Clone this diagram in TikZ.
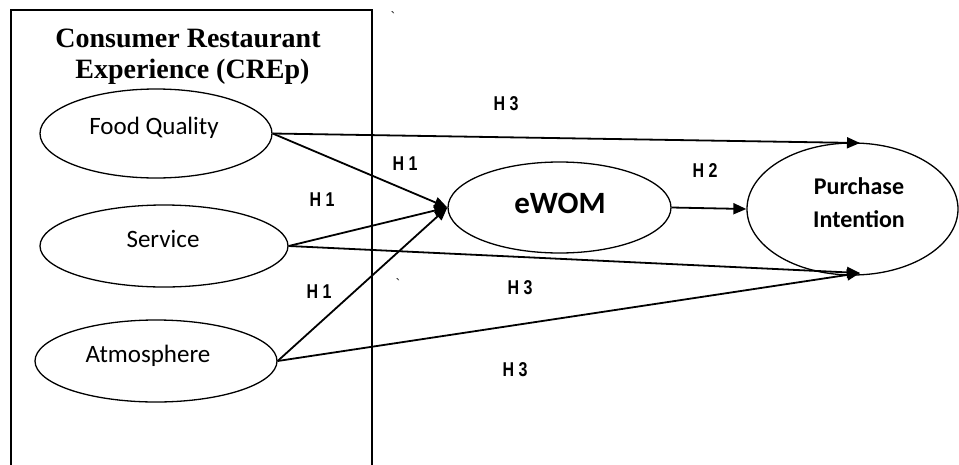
\documentclass[tikz,border=0pt]{standalone}
\usepackage{fontspec}
\setmainfont{Liberation Serif}
\newfontfamily\carl{Carlito}
\newfontfamily\hfont[FakeStretch=0.8]{Liberation Sans}
\usetikzlibrary{arrows.meta,shapes.geometric}
\begin{document}
\begin{tikzpicture}[x=1pt,y=-1pt,
  oval/.style={draw,ellipse,line width=1.3pt,inner sep=0pt},
  conn/.style={line width=1.8pt,-{Triangle[length=13pt,width=11pt]}},
  hyp/.style={font=\hfont\bfseries\fontsize{20}{20}\selectfont,inner sep=0pt},
  ttl/.style={font=\bfseries\fontsize{28}{31}\selectfont,inner sep=0pt,anchor=base},
  lbl/.style={font=\carl\fontsize{25}{25}\selectfont,inner sep=0pt,anchor=base},
  tick/.style={font=\fontsize{14}{14}\selectfont,inner sep=0pt}]
\clip (0,0) rectangle (959,464);
\draw[line width=1.3pt] (11,10) rectangle (372,490);
\node[ttl] (t1) at (188,47) {Consumer Restaurant};
\node[ttl] (t2) at (192.5,78) {Experience (CREp)};
% ellipses
\node[oval,minimum width=232pt,minimum height=89pt] (food) at (156,133.5) {};
\node[oval,minimum width=248pt,minimum height=82pt] (serv) at (164,246) {};
\node[oval,minimum width=242pt,minimum height=82pt] (atm) at (156,361) {};
\node[oval,minimum width=223pt,minimum height=91pt] (ewom) at (559.5,207.5) {};
\node[oval,minimum width=211pt,minimum height=132pt] (pi) at (852.5,209) {};
% texts
\node[lbl] (foodt) at (154,134) {Food Quality};
\node[lbl] (servt) at (163,247) {Service};
\node[lbl] (atmt) at (148,362) {Atmosphere};
\node[lbl,font=\carl\bfseries\fontsize{31}{31}\selectfont] (ewomt) at (560,213) {eWOM};
\node[lbl,font=\carl\bfseries\fontsize{24}{24}\selectfont] (pit1) at (859,194) {Purchase};
\node[lbl,font=\carl\bfseries\fontsize{24}{24}\selectfont] (pit2) at (859,227) {Intention};
% connectors
\coordinate (pitop) at (860,143);
\coordinate (pibot) at (860,273);
\draw[conn] (food.east) -- (ewom.west);
\draw[conn] (food.east) -- (pitop);
\draw[conn] (serv.east) -- (ewom.west);
\draw[conn] (serv.east) -- (pibot);
\draw[conn] (atm.east) -- (ewom.west);
\draw[conn] (atm.east) -- (pibot);
\draw[conn] (ewom.east) -- (pi.west);
% hypothesis labels
\node[hyp] (h3a) at (506,104) {H 3};
\node[hyp] (h1a) at (405,164) {H 1};
\node[hyp] (h1b) at (322,200) {H 1};
\node[hyp] (h1c) at (319,292) {H 1};
\node[hyp] (h3b) at (520,288) {H 3};
\node[hyp] (h3c) at (515,370) {H 3};
\node[hyp] (h2) at (705,171) {H 2};
% stray marks
\node[tick] (bt1) at (393,17) {\textasciigrave};
\node[tick] (bt2) at (398,284) {\textasciigrave};
\end{tikzpicture}
\end{document}
